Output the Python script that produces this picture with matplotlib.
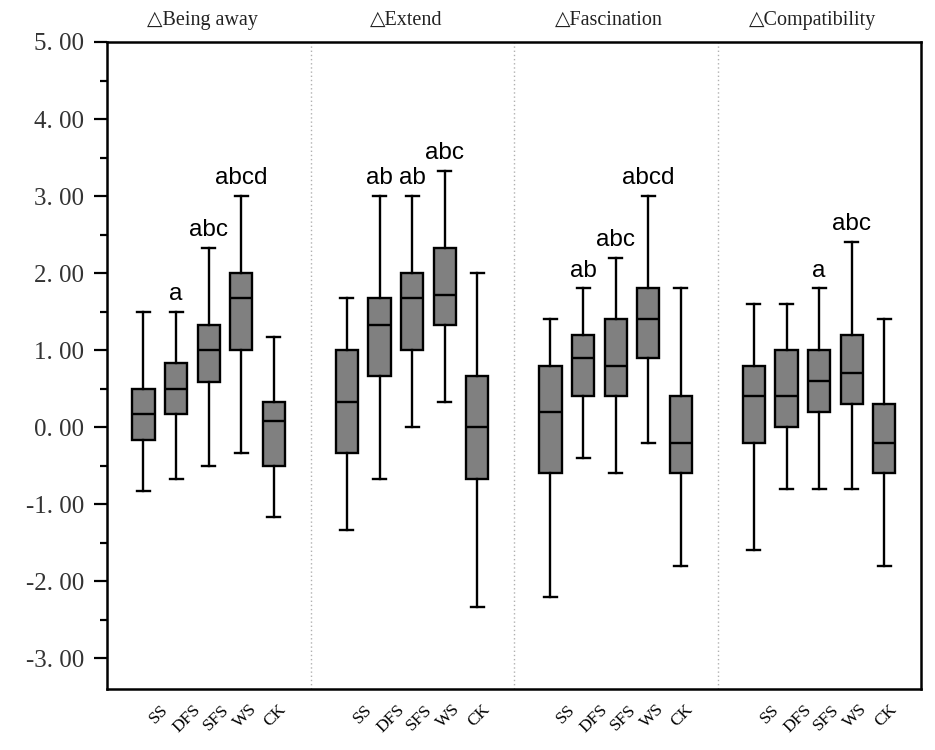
import matplotlib
matplotlib.use("Agg")
import matplotlib.pyplot as plt
from matplotlib.ticker import MultipleLocator, FixedLocator, FuncFormatter
import matplotlib.transforms as mtransforms

# ---------------- data ----------------
panels = ["\u25b3Being away", "\u25b3Extend", "\u25b3Fascination", "\u25b3Compatibility"]
groups = ["SS", "DFS", "SFS", "WS", "CK"]

# one row per panel, one column per group
whis_hi = [[1.50, 1.50, 2.33, 3.00, 1.17],
           [1.67, 3.00, 3.00, 3.33, 2.00],
           [1.40, 1.80, 2.20, 3.00, 1.80],
           [1.60, 1.60, 1.80, 2.40, 1.40]]
q3 = [[0.50, 0.83, 1.33, 2.00, 0.33],
      [1.00, 1.67, 2.00, 2.33, 0.67],
      [0.80, 1.20, 1.40, 1.80, 0.40],
      [0.80, 1.00, 1.00, 1.20, 0.30]]
median = [[0.17, 0.50, 1.00, 1.67, 0.08],
          [0.33, 1.33, 1.67, 1.71, 0.00],
          [0.20, 0.90, 0.80, 1.40, -0.20],
          [0.40, 0.40, 0.60, 0.70, -0.20]]
q1 = [[-0.17, 0.17, 0.58, 1.00, -0.50],
      [-0.33, 0.67, 1.00, 1.33, -0.67],
      [-0.60, 0.40, 0.40, 0.90, -0.60],
      [-0.20, 0.00, 0.20, 0.30, -0.60]]
whis_lo = [[-0.83, -0.67, -0.50, -0.33, -1.17],
           [-1.33, -0.67, 0.00, 0.33, -2.33],
           [-2.20, -0.40, -0.60, -0.20, -1.80],
           [-1.60, -0.80, -0.80, -0.80, -1.80]]
letters = [["", "a", "abc", "abcd", ""],
           ["", "ab", "ab", "abc", ""],
           ["", "ab", "abc", "abcd", ""],
           ["", "", "a", "abc", ""]]

# ---------------- layout ----------------
panel_w = 6.25
first_box = 1.12
label_off = [1.6, 2.46, 3.35, 4.25, 5.17]

fig = plt.figure(figsize=(9.35, 7.5), dpi=100)
ax = fig.add_axes([107/935, 1-689/750, (921-107)/935, (689-42)/750])

serif = ["Liberation Serif", "DejaVu Serif"]

stats, positions = [], []
for p in range(len(panels)):
    for g in range(len(groups)):
        stats.append(dict(whislo=whis_lo[p][g], q1=q1[p][g], med=median[p][g],
                          q3=q3[p][g], whishi=whis_hi[p][g], fliers=[]))
        positions.append(p*panel_w + first_box + g)

lw = 1.7
ax.bxp(stats, positions=positions, widths=0.68, patch_artist=True,
       showfliers=False, manage_ticks=False,
       boxprops=dict(facecolor="#808080", edgecolor="black", linewidth=lw),
       medianprops=dict(color="black", linewidth=lw),
       whiskerprops=dict(color="black", linewidth=lw),
       capprops=dict(color="black", linewidth=lw),
       capwidths=0.4)

# significance letters
k = 0
for p in range(len(panels)):
    for g in range(len(groups)):
        if letters[p][g]:
            ax.annotate(letters[p][g], (positions[k], whis_hi[p][g]),
                        xytext=(0, 5), textcoords="offset points",
                        ha="center", va="bottom", fontsize=17.5,
                        family=["Liberation Sans", "DejaVu Sans"])
        k += 1

# panel separators
for p in range(1, len(panels)):
    ax.axvline(p*panel_w, color="#b0b0b0", linestyle=(0, (1, 2)), linewidth=1.0)

# panel titles
trans = mtransforms.blended_transform_factory(ax.transData, ax.transAxes)
for p, t in enumerate(panels):
    ax.text(p*panel_w + panel_w/2 - 0.2, 1.034, t, transform=trans,
            ha="center", va="center", fontsize=14.5, family=serif, color="#222222")

ax.set_xlim(0, panel_w*len(panels))
ax.set_ylim(-3.4, 5.0)

# x tick labels
xt, xl = [], []
for p in range(len(panels)):
    for g in range(len(groups)):
        xt.append(p*panel_w + label_off[g])
        xl.append(groups[g])
ax.set_xticks(xt)
ax.set_xticklabels(xl, rotation=45, ha="center", va="top", fontsize=12.5, family=serif)
ax.tick_params(axis="x", length=0, pad=9)

# y ticks
ax.yaxis.set_major_locator(FixedLocator([-3, -2, -1, 0, 1, 2, 3, 4, 5]))
ax.yaxis.set_minor_locator(MultipleLocator(0.5))
ax.yaxis.set_major_formatter(FuncFormatter(lambda v, pos: f"{v:.2f}".replace(".", ". ")))
ax.tick_params(axis="y", which="major", direction="out", length=9.5, width=1.6,
               pad=7, labelsize=18, colors="black")
ax.tick_params(axis="y", which="minor", direction="out", length=5, width=1.6)
for lab in ax.get_yticklabels():
    lab.set_family(serif)
    lab.set_color("#333333")

for s in ax.spines.values():
    s.set_linewidth(1.8)

fig.savefig("out.png", dpi=100)
